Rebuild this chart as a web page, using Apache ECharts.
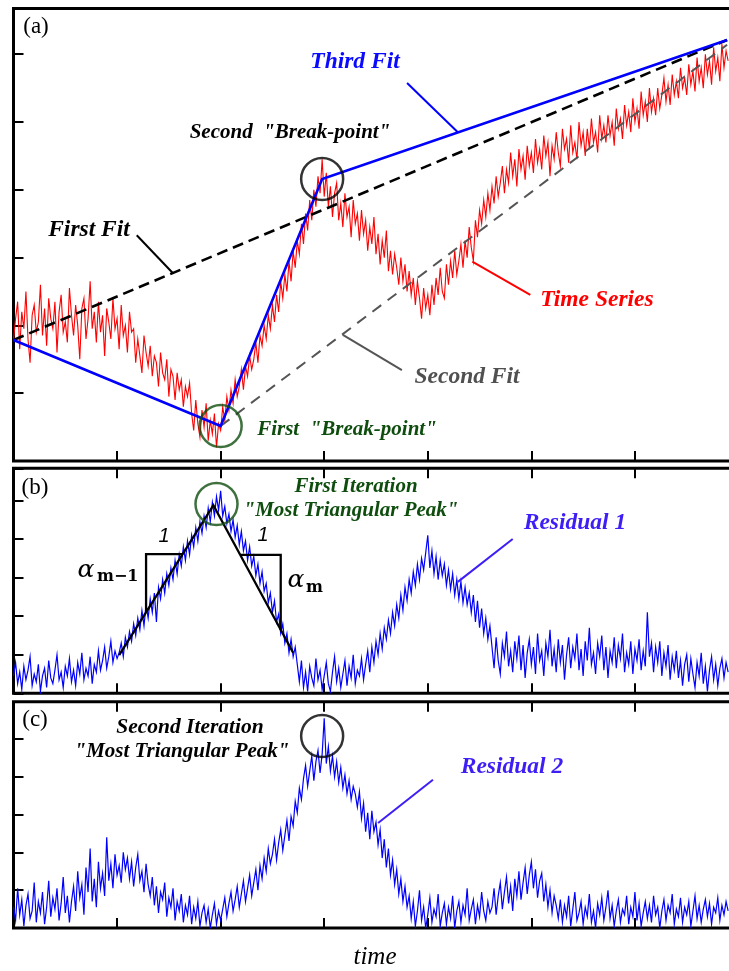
<!DOCTYPE html>
<html><head><meta charset="utf-8">
<script src="https://cdn.jsdelivr.net/npm/echarts@6/dist/echarts.min.js"></script>
<style>html,body{margin:0;padding:0;background:#fff}#c{width:729px;height:971px}</style>
</head><body><div id="c"></div>
<script>
// uniform sampling step of the time axis (tick units)
const DT = 0.02;

// Panel (a): time series
const timeSeries = [
1.78,2.10,2.35,1.65,2.20,1.95,2.50,1.80,1.45,2.15,
2.30,1.90,2.05,2.60,1.85,2.25,1.70,2.40,2.10,1.95,
2.35,1.60,2.20,2.45,1.90,2.05,1.75,2.55,2.15,1.85,
2.30,2.00,1.50,2.25,2.40,1.80,2.10,2.65,1.95,2.20,
1.75,2.35,1.90,2.15,1.55,2.25,2.05,1.80,2.40,1.95,
2.10,1.65,2.30,1.85,2.00,1.60,2.20,1.90,
1.95,1.45,1.80,1.55,1.30,1.85,1.60,1.40,1.70,1.25,1.55,1.45,1.10,1.60,1.30,1.20,1.50,0.95,1.35,1.25,0.90,1.30,1.05,1.20,0.80,1.10,0.95,1.15,
0.70,0.45,0.90,0.55,0.35,0.75,0.50,0.85,0.30,0.60,0.40,0.70,0.20,0.55,0.45,
0.80,0.60,0.95,0.75,1.05,0.85,1.20,0.95,1.10,1.35,1.05,1.40,1.25,1.55,1.35,1.50,1.75,1.45,1.85,1.70,
2.00,1.80,2.15,1.95,2.30,2.05,2.45,2.20,2.65,2.40,2.75,2.50,2.95,2.65,3.10,2.85,3.25,3.05,3.50,3.20,
3.65,3.40,3.85,3.55,4.00,3.75,4.20,3.95,4.45,
3.90,4.25,3.75,4.05,3.60,3.95,4.10,3.55,3.80,3.45,3.95,3.60,3.75,3.30,3.85,3.50,3.65,3.25,3.70,3.35,
3.55,3.10,3.45,3.20,3.60,3.05,3.35,2.90,3.25,3.00,3.40,2.80,3.10,2.75,3.05,2.85,2.60,3.00,2.65,2.90,
2.50,2.80,2.45,2.70,2.30,2.65,2.40,2.10,2.55,2.25,2.45,2.15,2.60,
2.30,2.70,2.45,2.85,2.50,2.40,2.90,2.60,2.95,2.70,3.10,2.75,2.95,3.20,2.85,3.25,3.00,3.45,3.15,2.95,3.55,3.30,3.70,
3.50,3.85,3.60,3.95,3.70,4.05,3.80,4.20,3.90,4.10,4.35,3.95,4.30,4.10,4.55,4.20,4.45,4.05,4.60,4.30,4.50,4.15,
4.65,4.35,4.55,4.25,4.75,4.40,4.60,4.30,4.80,4.50,4.70,4.20,4.65,4.45,4.85,4.55,4.35,4.90,4.60,4.75,
4.40,4.95,4.55,4.70,4.45,5.00,4.65,4.85,4.50,4.90,4.60,5.05,4.70,4.85,4.55,5.10,4.75,4.95,
4.70,5.10,4.80,5.00,4.65,5.20,4.90,5.05,4.75,5.25,4.95,5.15,4.85,5.35,5.00,5.20,4.90,5.45,5.10,5.30,5.00,5.50,5.15,5.35,5.10,
5.50,5.20,5.40,5.65,5.30,5.55,5.25,5.70,5.40,5.60,5.35,5.80,5.50,5.65,5.40,5.85,5.55,5.75,5.45,5.95,
5.60,5.80,5.50,6.00,5.70,5.90,5.55,6.10,5.75,5.95,5.60,6.15,5.80,6.05,5.90
];

// Panel (b): residual 1
const residual1 = [
0.45,0.80,0.25,0.55,0.10,0.70,0.35,0.60,0.95,0.20,0.50,0.30,0.75,0.05,0.45,0.65,0.15,0.85,0.40,0.25,
0.60,1.00,0.35,0.55,0.15,0.70,0.45,0.90,0.30,0.60,0.20,0.80,0.50,1.05,0.35,0.65,0.45,0.95,0.25,0.75,
0.55,1.10,0.60,
0.85,1.20,0.65,0.95,1.35,0.80,1.10,0.90,
1.05,1.30,0.95,1.45,1.20,1.60,1.35,1.80,1.50,1.95,1.65,2.15,1.75,2.30,1.95,2.45,2.10,2.60,1.85,2.75,
2.45,2.95,2.60,3.10,2.80,3.25,2.95,3.45,3.10,3.60,3.30,3.80,3.45,3.95,3.60,4.10,3.80,4.30,3.95,4.45,
4.15,4.60,4.30,4.80,4.45,4.95,4.60,5.10,
4.75,5.25,4.60,4.85,4.40,4.65,4.20,4.50,4.05,4.35,3.85,4.20,3.70,3.95,3.45,3.80,
3.30,3.55,3.05,3.35,2.85,3.15,2.65,2.85,2.35,2.60,2.10,2.40,1.85,2.05,1.55,1.80,1.30,1.55,1.05,1.40,0.95,1.20,0.75,
0.30,0.85,0.15,0.55,0.05,0.70,0.40,0.20,0.90,0.35,0.60,0.10,0.45,0.80,0.25,0.05,0.55,0.95,0.30,0.65,
0.15,0.50,0.85,0.20,0.70,0.40,1.00,0.25,0.60,0.45,0.90,0.35,0.75,1.10,0.55,
1.20,0.80,1.35,1.00,1.55,1.15,1.70,1.40,1.90,1.55,2.10,1.75,2.30,1.95,2.55,2.15,2.75,2.40,2.95,2.60,
3.15,2.80,3.35,2.95,3.50,3.20,3.65,4.10,
3.25,3.70,3.10,3.55,2.95,3.45,3.05,3.35,2.80,3.20,2.70,3.10,2.55,2.95,2.45,2.90,2.35,2.75,2.30,2.60,
2.10,2.55,1.85,2.40,1.70,2.20,1.55,1.95,1.40,1.75,
1.20,0.65,1.45,0.85,0.50,1.30,0.95,1.60,0.70,1.10,
0.55,1.35,0.90,1.50,0.60,1.25,0.40,1.05,1.40,0.75,
1.20,0.50,1.55,0.85,1.10,0.45,1.30,0.95,1.65,0.70,
1.15,0.55,1.40,0.80,1.25,0.35,1.00,1.45,0.65,1.20,
0.90,1.55,0.60,1.15,0.45,1.35,0.85,1.70,0.75,1.05,
0.50,1.30,0.95,1.50,0.60,1.20,0.40,1.10,0.80,1.45,
0.65,1.25,0.90,1.55,0.55,1.05,0.75,1.35,0.50,1.15,
0.85,1.40,0.60,1.10,0.70,2.10,0.95,1.30,0.55,1.20,
0.80,1.35,0.45,1.05,0.70,1.25,0.35,0.95,0.60,1.10,
0.40,0.85,0.20,0.75,1.00,0.30,0.90,0.50,0.15,0.80,
0.45,1.05,0.25,0.70,0.05,0.60,0.95,0.35,0.75,0.20,
0.65,0.90,0.40,0.80,0.55
];

// Panel (c): residual 2
const residual2 = [
0.55,0.20,1.05,0.35,0.75,0.05,0.60,0.90,0.25,0.45,1.20,0.15,0.70,0.40,0.95,0.10,0.55,1.25,0.30,0.80,
0.50,1.05,0.20,0.65,1.35,0.40,0.85,0.15,0.70,1.10,
0.45,1.50,0.80,1.15,0.35,1.60,0.95,2.10,0.70,1.30,0.55,1.75,1.05,1.45,0.85,
2.40,1.25,1.70,1.05,1.95,1.40,1.65,1.20,2.00,1.55,1.85,1.30,1.75,1.10,1.60,1.95,1.25,1.50,0.95,1.70,1.15,
0.85,1.35,0.60,1.10,0.40,0.95,0.75,1.20,0.30,0.80,0.55,1.05,0.20,0.70,0.45,0.90,0.15,0.60,0.35,0.85,
0.10,0.55,0.25,0.70,0.05,0.40,0.60,0.15,0.50,0.00,0.35,0.65,0.10,0.45,0.20,
0.50,0.80,0.30,0.65,0.95,0.45,0.75,1.10,0.55,0.90,1.25,0.70,1.05,1.40,0.85,1.20,1.55,1.00,
1.65,1.30,1.85,1.50,2.10,1.70,1.95,2.35,1.80,2.25,2.60,2.05,2.45,2.85,2.30,2.95,
2.70,3.35,3.05,3.70,3.40,3.95,4.30,3.75,4.15,4.55,3.90,4.40,4.70,4.10,4.60,
5.55,
4.35,4.80,4.15,4.55,4.00,4.40,3.85,4.25,3.70,4.05,3.55,3.90,3.40,3.75,3.55,3.20,3.60,2.90,3.30,2.55,3.05,2.35,
3.10,2.55,2.80,2.20,2.60,1.85,2.35,1.60,2.10,1.40,1.80,1.15,1.55,0.90,1.30,0.70,1.10,0.55,0.85,
0.25,0.70,0.05,0.45,1.00,0.20,0.55,0.00,0.35,0.80,0.15,0.50,0.30,0.90,0.05,0.40,0.65,0.10,0.55,0.25,
0.85,0.00,0.45,0.70,0.15,0.60,0.35,1.05,0.20,0.50,0.75,0.10,0.60,0.30,0.95,0.45,0.20,0.70,0.40,
0.55,1.05,0.35,0.85,1.20,0.50,0.95,1.35,0.65,1.10,0.45,1.30,0.85,1.50,0.75,1.20,1.60,0.90,1.40,1.75,
1.05,1.55,0.80,1.25,1.45,0.70,1.15,0.55,1.00,0.40,0.85,0.60,0.25,0.75,
0.15,0.60,0.30,0.85,0.05,0.50,0.95,0.20,0.40,0.70,
0.10,0.55,0.30,0.90,0.15,0.45,0.00,0.65,0.35,0.80,
0.20,0.55,1.00,0.25,0.60,0.05,0.45,0.75,0.15,0.50,
0.35,0.85,0.10,0.55,0.30,0.95,0.20,0.65,0.05,0.40,
0.70,0.25,0.60,0.15,0.85,0.35,0.55,0.00,0.45,0.75,
0.20,0.60,0.40,0.90,0.10,0.50,0.30,0.80,0.15,0.55,
0.35,0.70,0.05,0.45,0.85,0.25,0.60,0.15,0.50,0.75,
0.30,0.65,0.10,0.55,0.40,0.80,0.20,0.60,0.35,0.70,
0.45
];

// Fits and marks (data coordinates)
const firstFit  = [[0,1.785],[6.89,6.21]];
const secondFit = [[2.00,0.516],[6.89,6.14]];
const thirdFit  = [[0,1.785],[2.00,0.516],[2.98,4.16],[6.89,6.21]];
const breakPoint1 = [2.00,0.516];
const breakPoint2 = [2.98,4.16];
const triangleFit = [[1.02,0.99],[1.93,4.88],[2.70,1.05]];
const slopeLeft  = [[1.28,2.11],[1.28,3.61],[1.63,3.61]];
const slopeRight = [[2.19,3.59],[2.58,3.59],[2.58,1.64]];
const peak1 = [1.96,4.91];
const peak2 = [2.98,5.08];
// annotation leader lines (data coordinates)
const leaderThird  = [[3.80,5.575],[4.29,4.85]];
const leaderFirst  = [[1.19,3.33],[1.54,2.77]];
const leaderTime   = [[4.43,2.94],[4.99,2.45]];
const leaderSecond = [[3.18,1.86],[3.75,1.34]];
const leaderRes1   = [[4.29,2.89],[4.82,4.00]];
const leaderRes2   = [[3.52,2.78],[4.05,3.92]];

const chart = echarts.init(document.getElementById('c'), null, {renderer:'canvas'});
const toPairs = arr => arr.map((v,i)=>[+(i*DT).toFixed(4), v]);

const gridBase = {show:true,borderColor:'#000',borderWidth:3,backgroundColor:'transparent',
  containLabel:false,outerBoundsMode:'none'};
const grids = [
  Object.assign({left:13.5, top:8.5, width:725, height:452.5}, gridBase),
  Object.assign({left:13.5, top:468.3, width:725, height:225}, gridBase),
  Object.assign({left:13.5, top:701.7, width:725, height:226.3}, gridBase)
];
const tickStyle = {show:true,inside:true,length:10,lineStyle:{color:'#000',width:2}};
function xAx(gi,pos){return {type:'value',gridIndex:gi,position:pos,min:0,max:7,interval:1,
  axisLine:{show:false},axisLabel:{show:false},splitLine:{show:false},axisTick:tickStyle};}
function yAx(gi,max){return {type:'value',gridIndex:gi,min:0,max:max,interval:1,
  axisLine:{show:false},axisLabel:{show:false},splitLine:{show:false},axisTick:tickStyle};}

function line(xi,yi,data,color,width,type,z){
  return {type:'line',xAxisIndex:xi,yAxisIndex:yi,data:data,showSymbol:false,symbol:'none',
    lineStyle:{color:color,width:width,type:type||'solid',cap:'butt',join:'miter'},z:z||2,silent:true,animation:false};
}
function ring(xi,yi,pt,color){
  return {type:'scatter',xAxisIndex:xi,yAxisIndex:yi,data:[pt],symbol:'circle',symbolSize:42,
    itemStyle:{color:'rgba(0,0,0,0)',borderColor:color,borderWidth:2.5},z:8,silent:true,animation:false};
}
function txt(text,x,y,font,fill,align){
  return {type:'text',x:x,y:y,z:100,silent:true,
    style:{text:text,font:font,fill:fill,align:align||'center',verticalAlign:'middle',
      textAlign:align||'center',textVerticalAlign:'middle'}};
}

const BIG = 'bold italic 23.5px "Liberation Serif"';
const MID = 'bold italic 21px "Liberation Serif"';
const GREEN = '#0e4d0e';
const VIOLET = '#3d1ef5';
const GRAY = '#555555';

const option = {
  animation:false,
  backgroundColor:'#ffffff',
  grid: grids,
  xAxis: [xAx(0,'bottom'), xAx(1,'bottom'), xAx(2,'bottom'), xAx(1,'top'), xAx(2,'top')],
  yAxis: [yAx(0,6.674), yAx(1,5.836), yAx(2,5.987)],
  series: [
    line(0,0,toPairs(timeSeries),'#ff0000',1.1,'solid',2),
    line(0,0,firstFit,'#000000',2.6,[11,6],3),
    line(0,0,secondFit,GRAY,2,[11,8],3),
    line(0,0,thirdFit,'#0000ff',2.6,'solid',4),
    line(0,0,leaderThird,'#0000ff',2,'solid',4),
    line(0,0,leaderFirst,'#000000',2,'solid',4),
    line(0,0,leaderTime,'#ff0000',2,'solid',4),
    line(0,0,leaderSecond,GRAY,2,'solid',4),
    ring(0,0,breakPoint1,GREEN),
    ring(0,0,breakPoint2,'#000000'),

    line(1,1,toPairs(residual1),'#0000ff',1.2,'solid',2),
    line(1,1,triangleFit,'#000000',2.3,'solid',4),
    line(1,1,slopeLeft,'#000000',2.3,'solid',4),
    line(1,1,slopeRight,'#000000',2.3,'solid',4),
    line(1,1,leaderRes1,VIOLET,2,'solid',4),
    ring(1,1,peak1,GREEN),

    line(2,2,toPairs(residual2),'#0000ff',1.2,'solid',2),
    line(2,2,leaderRes2,VIOLET,2,'solid',4),
    ring(2,2,peak2,'#000000')
  ],
  graphic: [
    txt('(a)',36,27,'23px "Liberation Serif"','#000'),
    txt('(b)',35,488,'23px "Liberation Serif"','#000'),
    txt('(c)',35,720,'23px "Liberation Serif"','#000'),
    txt('Third Fit',355,62,BIG,'#0a0aff'),
    txt('Second  "Break-point"',290,133,MID,'#000'),
    txt('First Fit',89,230,BIG,'#000'),
    txt('Time Series',597,300,BIG,'#ff0000'),
    txt('Second Fit',467,377,BIG,'#505050'),
    txt('First  "Break-point"',347,430,MID,GREEN),
    txt('First Iteration',356,487,MID,GREEN),
    txt('"Most Triangular Peak"',351,511,MID,GREEN),
    txt('Residual 1',575,523,BIG,VIOLET),
    txt('1',164,536,'italic 20px "Liberation Sans"','#000'),
    txt('1',263,535,'italic 20px "Liberation Sans"','#000'),
    txt('α',86,570,'italic 25px "DejaVu Serif"','#000'),
    txt('m−1',97,577,'bold 16px "DejaVu Serif"','#000','left'),
    txt('α',296,580,'italic 25px "DejaVu Serif"','#000'),
    txt('m',306,588,'bold 16px "DejaVu Serif"','#000','left'),
    txt('Second Iteration',190,727,'bold italic 21.5px "Liberation Serif"','#000'),
    txt('"Most Triangular Peak"',182,752,MID,'#000'),
    txt('Residual 2',512,767,BIG,VIOLET),
    txt('time',375,957,'italic 25px "Liberation Serif"','#000')
  ]
};
chart.setOption(option);
</script>
</body></html>
